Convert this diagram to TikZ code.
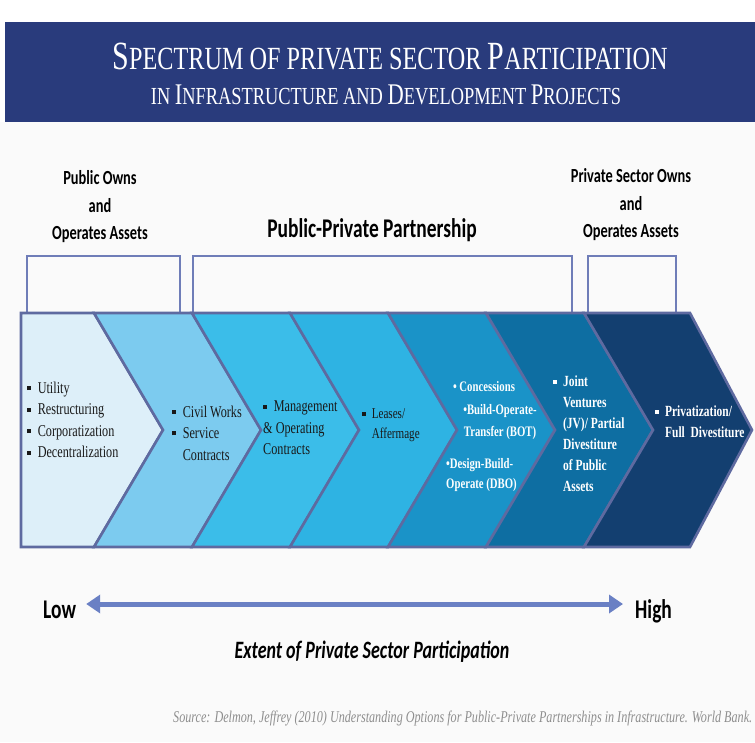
\documentclass[tikz,border=0pt]{standalone}
\usepackage{fontspec}
\usetikzlibrary{arrows.meta}

\newfontfamily\labfont{Carlito}[FakeStretch=0.72]
\newfontfamily\boxfont{Liberation Serif}[FakeStretch=0.74]
\newfontfamily\titfont{Liberation Serif}[FakeStretch=0.75]

\definecolor{bandblue}{HTML}{293B7C}
\definecolor{edgeblue}{HTML}{5E6AA0}
\definecolor{brackblue}{HTML}{6F7DB8}
\definecolor{arrowblue}{HTML}{6A80C4}
\definecolor{srcgray}{HTML}{8E8E8E}
\definecolor{chA}{HTML}{DDEFF9}
\definecolor{chB}{HTML}{7CCBEF}
\definecolor{chC}{HTML}{3BBDE9}
\definecolor{chD}{HTML}{2EB3E3}
\definecolor{chE}{HTML}{1A93C8}
\definecolor{chF}{HTML}{0E6EA2}
\definecolor{chG}{HTML}{133F70}

% square bullet and the two small-caps sizes of the title
\newcommand{\bul}{\rule[0.2em]{0.24em}{0.24em}\hspace{0.4em}}
\newcommand{\scA}[1]{{\fontsize{32.3}{33}\selectfont #1}}
\newcommand{\scB}[1]{{\fontsize{24.5}{25}\selectfont #1}}

\begin{document}
\begin{tikzpicture}[x=1pt, y=-1pt,
    chev/.style={draw=edgeblue, line width=2.6pt, line join=miter},
    bracket/.style={draw=brackblue, line width=1.8pt},
    titletext/.style={text=white, inner sep=0pt, font=\titfont},
    grouptext/.style={font=\labfont\bfseries\fontsize{20}{27.5}\selectfont, align=center, inner sep=0pt},
    darktext/.style={font=\boxfont\fontsize{16.5}{21.5}\selectfont, text=black!90, align=left, inner sep=0pt},
    lighttext/.style={font=\boxfont\bfseries\fontsize{15.5}{21}\selectfont, text=white, align=left, inner sep=0pt},
    endlabel/.style={font=\labfont\bfseries\fontsize{27}{28}\selectfont, inner sep=0pt},
    scalearrow/.style={draw=arrowblue, line width=5pt, {Triangle[width=18pt,length=14pt]}-{Triangle[width=18pt,length=14pt]}}]
    \useasboundingbox (0,0) rectangle (755,742);
    \fill[white] (0,0) rectangle (755,742);
    \fill[black!2] (0,122) rectangle (755,742);

    % Title band
    \fill[bandblue] (5,22) rectangle (755,122);
    \node[titletext, anchor=base] (title) at (390,69)
        {\fontsize{40}{41}\selectfont S\scA{PECTRUM OF PRIVATE SECTOR }P\scA{ARTICIPATION}};
    \node[titletext, anchor=base] (subtitle) at (386,104)
        {\fontsize{30}{31}\selectfont \scB{IN }I\scB{NFRASTRUCTURE AND }D\scB{EVELOPMENT }P\scB{ROJECTS}};

    % Group labels with their brackets
    \node[grouptext] (public) at (100,207) {Public Owns\\and\\Operates Assets};
    \node[grouptext, anchor=base, font=\labfont\bfseries\fontsize{27}{28}\selectfont] (ppp) at (372,237) {Public-Private Partnership};
    \node[grouptext] (private) at (631,205) {Private Sector Owns\\and\\Operates Assets};
    \draw[bracket] (27,313) -- (27,256) -- (180,256) -- (180,313);
    \draw[bracket] (193,313) -- (193,256) -- (572,256) -- (572,313);
    \draw[bracket] (588,313) -- (588,256) -- (676,256) -- (676,313);

    % Chevrons, low to high
    \fill[chA, chev] (21,313) -- (94,313) -- (163,430) -- (94,547) -- (21,547) -- cycle;
    \foreach \a/\b/\col in {94/192/chB, 192/290/chC, 290/388/chD, 388/486/chE, 486/584/chF}
        \fill[\col, chev] (\a,313) -- (\b,313) -- ({\b+69},430) -- (\b,547) -- (\a,547) -- ({\a+69},430) -- cycle;
    \fill[chG, chev] (584,313) -- (690,313) -- (752,430) -- (690,547) -- (584,547) -- (653,430) -- cycle;

    % Texts in the chevrons
    \node[darktext, anchor=west] (utility) at (27,420)
        {\bul Utility\\\bul Restructuring\\\bul Corporatization\\\bul Decentralization};
    \node[darktext, anchor=west] (civil) at (172,433)
        {\bul Civil Works\\\bul Service\\\phantom{\bul}Contracts};
    \node[darktext, anchor=west] (mgmt) at (263,428)
        {\bul Management\\\& Operating\\Contracts};
    \node[darktext, anchor=west, font=\boxfont\fontsize{15}{19.5}\selectfont] (lease) at (362,425)
        {\bul Leases/\\\phantom{\bul}Affermage};
    \node[lighttext, anchor=base, font=\boxfont\bfseries\fontsize{14.5}{20}\selectfont, text=white!92!chA] (conc) at (484,391)
        {\textbullet{} Concessions};
    \node[lighttext, align=center, font=\boxfont\bfseries\fontsize{14.5}{22}\selectfont, text=white!92!chA] (bot) at (500,422)
        {\textbullet Build-Operate-\\Transfer (BOT)};
    \node[lighttext, anchor=west, font=\boxfont\bfseries\fontsize{14.5}{20}\selectfont, text=white!92!chA] (dbo) at (446,475)
        {\textbullet Design-Build-\\Operate (DBO)};
    \node[lighttext, anchor=west] (joint) at (553,434)
        {\bul Joint\\\phantom{\bul}Ventures\\\phantom{\bul}(JV)/ Partial\\\phantom{\bul}Divestiture\\\phantom{\bul}of Public\\\phantom{\bul}Assets};
    \node[lighttext, anchor=west] (privat) at (655,422)
        {\bul Privatization/\\\phantom{\bul}Full~ Divestiture};

    % Scale of participation
    \node[endlabel, anchor=base west] (low) at (43,618) {Low};
    \node[endlabel, anchor=base west] (high) at (635,618) {High};
    \draw[scalearrow] ([xshift=10pt,yshift=14pt]low.base east) -- ([xshift=-12pt,yshift=14pt]high.base west);
    \node[endlabel, anchor=base, font=\labfont\bfseries\itshape\fontsize{25}{26}\selectfont] (extent) at (372,658)
        {Extent of Private Sector Participation};

    \node[anchor=base west, inner sep=0pt, text=srcgray, font=\boxfont\itshape\fontsize{16.4}{17}\selectfont] (source) at (173,722)
        {Source: Delmon, Jeffrey (2010) Understanding Options for Public-Private Partnerships in Infrastructure. World Bank.};
\end{tikzpicture}
\end{document}
